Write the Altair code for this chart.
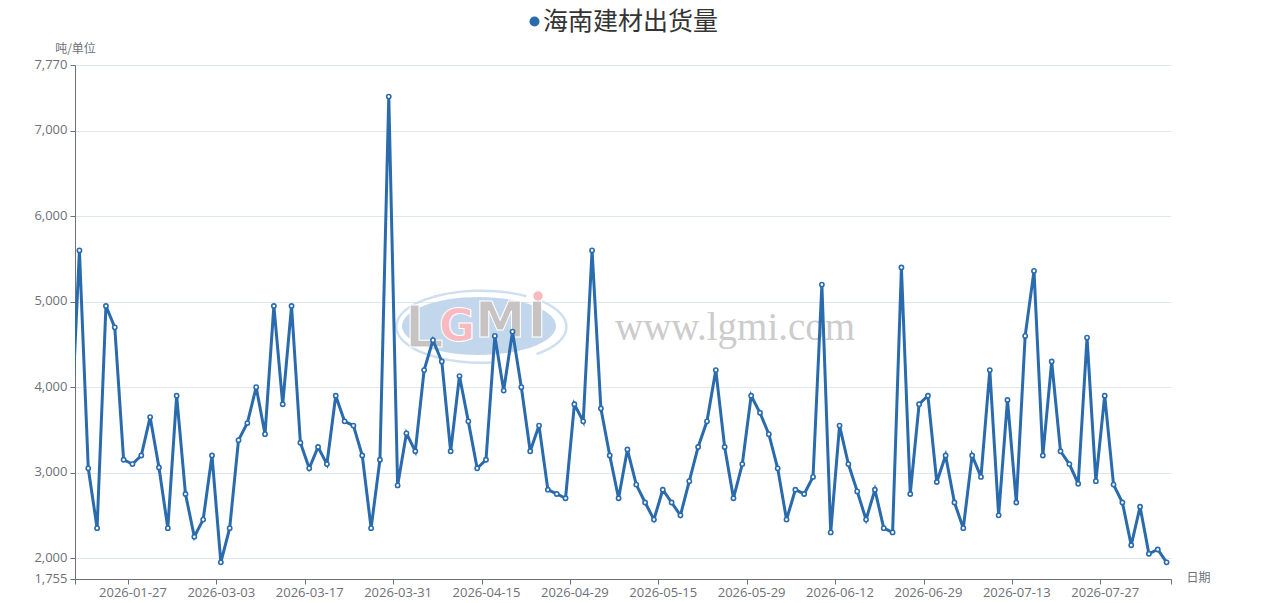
import altair as alt
import pandas as pd

BLUE = "#2a6bad"
FONT = "Noto Sans CJK SC"
NUM_FONT = "Open Sans"

# one value per day-slot; the first slot lies left of the visible window and is clipped
values = [3350,
    5600, 3050, 2350, 4950, 4700, 3150, 3100, 3200, 3650, 3060,
    2350, 3900, 2750, 2250, 2450, 3200, 1950, 2350, 3380, 3580,
    4000, 3450, 4950, 3800, 4950, 3350, 3050, 3300, 3100, 3900,
    3600, 3550, 3200, 2350, 3150, 7400, 2850, 3460, 3250, 4200,
    4550, 4300, 3250, 4130, 3600, 3050, 3150, 4600, 3960, 4650,
    4000, 3250, 3550, 2800, 2750, 2700, 3800, 3600, 5600, 3750,
    3200, 2700, 3270, 2860, 2650, 2450, 2800, 2650, 2500, 2900,
    3300, 3600, 4200, 3300, 2700, 3100, 3900, 3700, 3450, 3050,
    2450, 2800, 2750, 2950, 5200, 2300, 3550, 3100, 2780, 2450,
    2800, 2350, 2300, 5400, 2750, 3800, 3900, 2890, 3200, 2650,
    2350, 3200, 2950, 4200, 2500, 3850, 2650, 4600, 5360, 3200,
    4300, 3250, 3100, 2870, 4580, 2900, 3900, 2860, 2650, 2150,
    2600, 2050, 2100, 1950]
tick_dates = ["2026-01-27", "2026-03-03", "2026-03-17", "2026-03-31",
              "2026-04-15", "2026-04-29", "2026-05-15", "2026-05-29",
              "2026-06-12", "2026-06-29", "2026-07-13", "2026-07-27"]
tick_slots = [6, 16, 26, 36, 46, 56, 66, 76, 86, 96, 106, 116]
y_ticks = [1755, 2000, 3000, 4000, 5000, 6000, 7000, 7770]
series_name = "海南建材出货量"
slot_count = len(values) - 1

df = pd.DataFrame({
    "slot": [i - 0.5 for i in range(len(values))],
    "value": values,
    "series": series_name,
})

expr = "{" + ",".join(f"'{s}':'{d}'" for s, d in zip(tick_slots, tick_dates)) + "}[datum.value] || ''"

x = alt.X("slot:Q",
          scale=alt.Scale(domain=[0, slot_count], nice=False, zero=False),
          axis=alt.Axis(values=[0] + tick_slots + [slot_count], labelExpr=expr, labelOffset=4.4,
                        grid=False, title="日期", titleX=1111, titleY=-2, titleAngle=0,
                        titleFont=FONT, titleFontSize=12, titleFontWeight="normal", titleColor="#6E7079",
                        titleAlign="left", titleBaseline="middle",
                        labelFont=NUM_FONT, labelFontSize=13, labelColor="#6E7079", labelPadding=2,
                        labelOverlap=False, labelFlush=False,
                        domainColor="#6E7079", tickColor="#6E7079", tickSize=5, domainWidth=1))
y = alt.Y("value:Q",
          scale=alt.Scale(domain=[1755, 7770], nice=False, zero=False),
          axis=alt.Axis(values=y_ticks, format=",d", grid=True, gridColor="#E0E6F1", gridWidth=1,
                        title="吨/单位", titleX=0, titleY=-17, titleAngle=0,
                        titleFont=FONT, titleFontSize=12, titleFontWeight="normal", titleColor="#6E7079",
                        titleAlign="center", titleBaseline="middle",
                        labelFont=NUM_FONT, labelFontSize=13, labelColor="#6E7079", labelPadding=3,
                        labelOffset=-1, labelOverlap=False, labelFlush=False,
                        domainColor="#6E7079", tickColor="#6E7079", tickSize=5, domainWidth=1))

line = alt.Chart(df).mark_line(strokeWidth=3, clip=True, interpolate="linear").encode(
    x=x, y=y,
    color=alt.Color("series:N", scale=alt.Scale(domain=[series_name], range=[BLUE]),
                    legend=alt.Legend(orient="none", legendX=447, legendY=-56, title=None,
                                      symbolType="circle", symbolFillColor=BLUE, symbolStrokeColor=BLUE,
                                      symbolStrokeWidth=0, symbolSize=100, labelFont=FONT, labelFontSize=25,
                                      labelColor="#333333", labelOffset={"expr": "-4"}, labelLimit=400, padding=0)),
)
points = alt.Chart(df).mark_point(filled=True, fill="white", stroke=BLUE, strokeWidth=1.6,
                                  size=18, opacity=1, clip=True, shape="circle").encode(
    x=x, y=y)

# watermark, placed in pixels relative to the plot origin (75, 65)
one = pd.DataFrame({"a": [0]})
def px(x0, y0):
    return {"x": alt.value(x0 - 75), "y": alt.value(y0 - 65)}

ellipse = alt.Chart(one).mark_point(
    shape="M-77,0A77,29,0,1,1,77,0A77,29,0,1,1,-77,0Z", filled=True, fill="#c3d7ec", size=4,
    opacity=1, stroke=None).encode(**px(479, 326))
ring = alt.Chart(one).mark_point(
    shape="M45,-30.5A85,36,0,1,0,10,35.7M55,27.4A85,36,0,0,0,60,-25.5",
    filled=False, stroke="#cfdff0", strokeWidth=2.5, size=4, opacity=1).encode(**px(481.5, 326.7))

def letter(ch, x0, y0, size, color, font="DejaVu Sans"):
    return alt.Chart(one).mark_text(text=ch, font=font, fontWeight="bold", fontSize=size,
                                    fill=color, stroke="white", strokeWidth=1, align="center",
                                    baseline="middle", opacity=1).encode(**px(x0, y0))

letters = [
    letter("L", 425, 328, 62, "#c6c3c2", "Liberation Sans"),
    letter("G", 457, 328, 44, "#f9b9c0"),
    letter("M", 500, 322, 50, "#c6c3c2"),
    letter("I", 537, 322, 50, "#c6c3c2"),
]
dot = alt.Chart(one).mark_point(shape="circle", filled=True, fill="#f9b9c0", size=90, opacity=1,
                                stroke=None).encode(**px(538, 296))
site = alt.Chart(one).mark_text(text="www.lgmi.com", font="Liberation Serif", fontSize=39, fill="#cccccc",
                                align="left", baseline="middle").encode(**px(615, 328))

chart = alt.layer(ellipse, ring, *letters, dot, site, line, points).properties(
    width=1096, height=514,
    background="white",
    autosize=alt.AutoSizeParams(type="none"),
    padding={"left": 67, "top": 57, "right": 100, "bottom": 22},
).configure_view(stroke=None)

chart.save("out.html", embed_options={"renderer": "svg", "actions": False})
